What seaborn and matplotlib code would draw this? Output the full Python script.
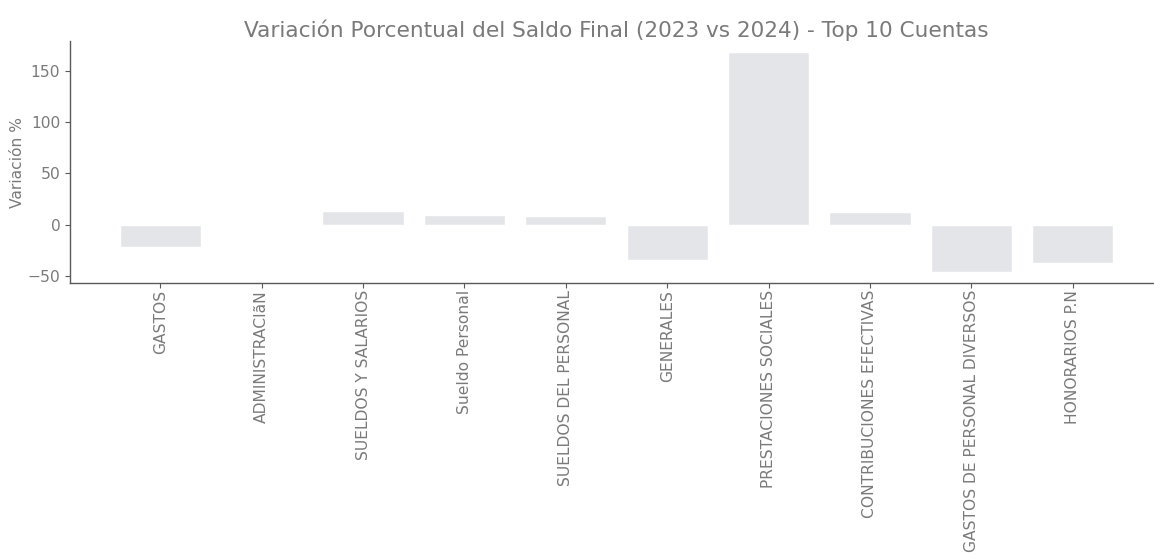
import matplotlib
matplotlib.use("Agg")
import matplotlib.pyplot as plt
import seaborn as sns
import pandas as pd

cuentas = [
    "GASTOS",
    "ADMINISTRACIãN",
    "SUELDOS Y SALARIOS",
    "Sueldo Personal",
    "SUELDOS DEL PERSONAL",
    "GENERALES",
    "PRESTACIONES SOCIALES",
    "CONTRIBUCIONES EFECTIVAS",
    "GASTOS DE PERSONAL DIVERSOS",
    "HONORARIOS P.N",
]
variacion = [-22, 0, 13, 9, 8.5, -34, 168, 12, -46, -37]

df = pd.DataFrame({"Cuenta": cuentas, "Variacion": variacion})

sns.set_style("ticks")
plt.rcParams["font.family"] = ["DejaVu Sans"]

text_color = "#7a7a7a"
spine_color = "#5a5a5a"

fig = plt.figure(figsize=(11.54, 5.55), dpi=100)
ax = fig.add_axes([70 / 1154, 1 - 283 / 555, 1093 / 1154, 242 / 555])

sns.barplot(data=df, x="Cuenta", y="Variacion", color="#e4e5e9",
            saturation=1, width=0.8, ax=ax)

ax.set_xlim(-0.89, 9.89)
ax.set_ylim(-56.7, 178.7)
ax.set_yticks([-50, 0, 50, 100, 150])

ax.set_title("Variación Porcentual del Saldo Final (2023 vs 2024) - Top 10 Cuentas",
             fontsize=15.6, color=text_color, pad=3)
ax.set_xlabel("")
ax.set_ylabel("Variación %", fontsize=11.2, color=text_color, labelpad=2)

ax.tick_params(axis="x", labelrotation=90, labelsize=11.2, colors=spine_color,
               labelcolor=text_color, length=3.5, pad=1.5)
ax.tick_params(axis="y", labelsize=11.2, colors=spine_color,
               labelcolor=text_color, length=3.5)

for side in ("top", "right"):
    ax.spines[side].set_visible(False)
for side in ("left", "bottom"):
    ax.spines[side].set_color(spine_color)
    ax.spines[side].set_linewidth(1.0)

fig.savefig("out.png", dpi=100)
